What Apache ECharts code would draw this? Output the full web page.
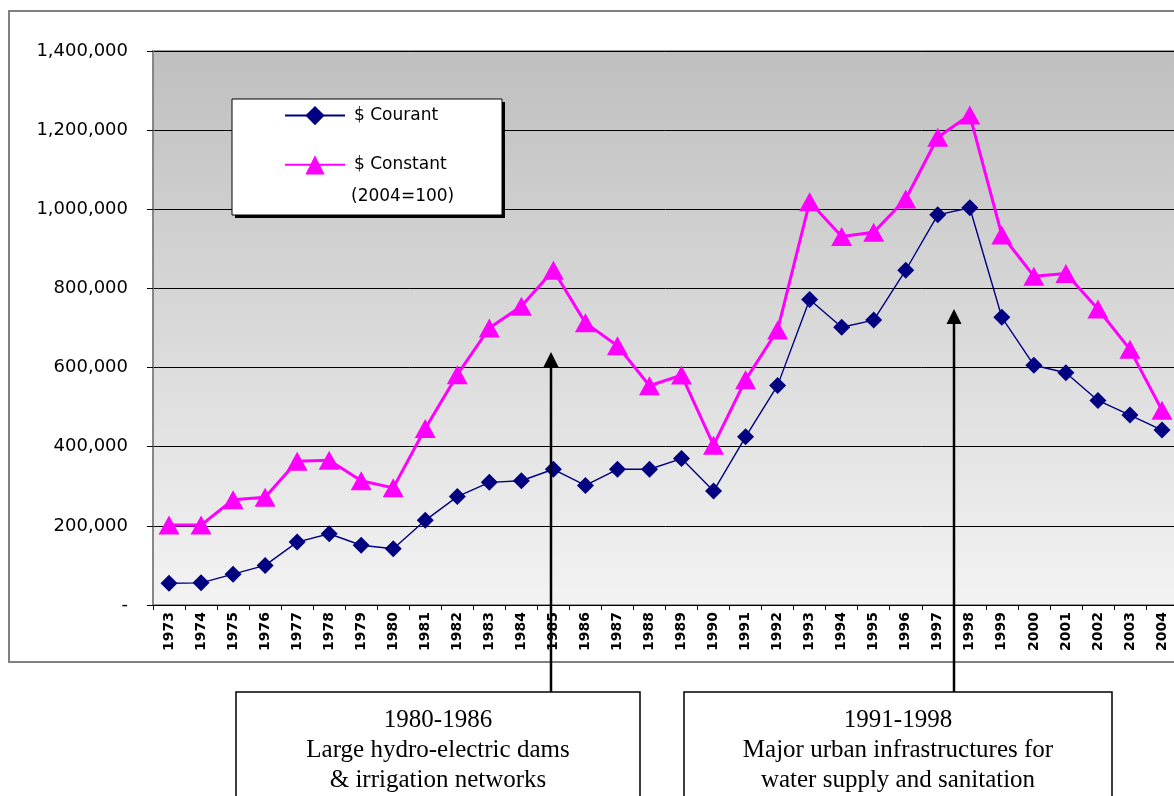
<!DOCTYPE html>
<html>
<head>
<meta charset="utf-8">
<script src="https://cdn.jsdelivr.net/npm/echarts@6/dist/echarts.min.js"></script>
<style>
html,body{margin:0;padding:0;background:#fff;overflow:hidden;width:1174px;height:796px;}
#chart{width:1182px;height:796px;}
</style>
</head>
<body>
<div id="chart"></div>
<script>
var years = ['1973','1974','1975','1976','1977','1978','1979','1980','1981','1982','1983','1984','1985','1986','1987','1988','1989','1990','1991','1992','1993','1994','1995','1996','1997','1998','1999','2000','2001','2002','2003','2004'];
var courant = [55000,56000,78000,100000,159000,180000,151000,142000,214000,274000,310000,314000,343000,302000,343000,343000,370000,288000,425000,555000,772000,702000,720000,846000,986000,1004000,727000,606000,587000,517000,480000,442000];
var constant = [202000,202000,266000,272000,363000,366000,314000,296000,446000,582000,700000,755000,846000,713000,655000,554000,581000,404000,569000,695000,1019000,931000,942000,1026000,1182000,1238000,935000,831000,838000,748000,646000,492000];
var yTicks = [0,200000,400000,600000,800000,1000000,1200000,1400000];
var seriesNames = ['$ Courant','$ Constant'];
var legendNote = '(2004=100)';
var box1Lines = ['1980-1986','Large hydro-electric dams','& irrigation networks'];
var box2Lines = ['1991-1998','Major urban infrastructures for','water supply and sanitation'];

var chart = echarts.init(document.getElementById('chart'));

function fmt(v){
  if (v === 0) return '-';
  return String(v).replace(/\B(?=(\d{3})+(?!\d))/g, ',');
}

function arrow(x, tipY, endY){
  return [
    {type:'line', z:10, shape:{x1:x,y1:tipY+12,x2:x,y2:endY}, style:{stroke:'#000',lineWidth:2.5}},
    {type:'polygon', z:10, shape:{points:[[x,tipY],[x-7.5,tipY+15],[x+7.5,tipY+15]]}, style:{fill:'#000'}}
  ];
}
function box(x1, x2, lines){
  var cx = (x1+x2)/2;
  var els = [{type:'rect', z:10, shape:{x:x1,y:692,width:x2-x1,height:130}, style:{fill:'#fff',stroke:'#000',lineWidth:1.5}}];
  lines.forEach(function(t,i){
    els.push({type:'text', z:11, style:{text:t, x:cx, y:720+i*30, textAlign:'center', textVerticalAlign:'middle', font:'25px "Liberation Serif", serif', fill:'#000'}});
  });
  return els;
}

var graphics = [
  {type:'rect', z:-10, silent:true, shape:{x:9,y:11,width:1200,height:651}, style:{fill:'#fff',stroke:'#808080',lineWidth:2}},
  {type:'rect', z:5, shape:{x:235,y:102,width:270,height:116}, style:{fill:'#000'}},
  {type:'rect', z:5, shape:{x:232,y:99,width:270,height:116}, style:{fill:'#fff',stroke:'#000',lineWidth:1}},
  {type:'text', z:6, style:{text:legendNote, x:351, y:197, textVerticalAlign:'middle', font:'17px "DejaVu Sans", sans-serif', fill:'#000'}}
].concat(arrow(551,352,692), arrow(954,309,692), box(236,640,box1Lines), box(684,1112,box2Lines));

var option = {
  backgroundColor:'transparent',
  animation:false,
  grid:{
    left:153, top:51, width:1025, height:554,
    show:true,
    backgroundColor:new echarts.graphic.LinearGradient(0,0,0,1,[{offset:0,color:'#bfbfbf'},{offset:1,color:'#f3f3f3'}]),
    borderColor:'#808080', borderWidth:1.5
  },
  legend:{
    orient:'vertical', left:284, top:106, z:8, padding:0,
    itemWidth:60, itemHeight:24, itemGap:30,
    data:seriesNames,
    textStyle:{fontFamily:'DejaVu Sans', fontSize:17, color:'#000', padding:[0,0,0,4]}
  },
  xAxis:{
    type:'category', data:years, boundaryGap:true,
    axisLine:{show:true, lineStyle:{color:'#000',width:1}},
    axisTick:{show:true, length:5, lineStyle:{color:'#000'}},
    axisLabel:{rotate:90, interval:0, margin:7, fontFamily:'DejaVu Sans', fontWeight:'bold', fontSize:14, color:'#000'}
  },
  yAxis:{
    type:'value', min:0, max:1400000, interval:200000,
    axisLine:{show:true, lineStyle:{color:'#808080',width:1.5}},
    axisTick:{show:true, length:6, lineStyle:{color:'#000'}},
    axisLabel:{margin:25, fontFamily:'DejaVu Sans', fontSize:18, color:'#000', formatter:function(v){return yTicks.indexOf(v)>=0?fmt(v):'';}},
    splitLine:{show:true, lineStyle:{color:'#000',width:1}}
  },
  series:[
    {name:seriesNames[0], type:'line', data:courant, symbol:'diamond', symbolSize:17,
     itemStyle:{color:'#000080'}, lineStyle:{color:'#000080',width:1.4}, z:4},
    {name:seriesNames[1], type:'line', data:constant, symbol:'triangle', symbolSize:[21,19],
     itemStyle:{color:'#ff00ff'}, lineStyle:{color:'#ff00ff',width:3}, z:3}
  ],
  graphic:graphics
};
chart.setOption(option);
</script>
</body>
</html>
